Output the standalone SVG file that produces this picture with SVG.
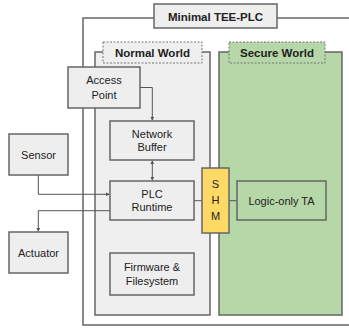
<svg xmlns="http://www.w3.org/2000/svg" width="349" height="328" viewBox="0 0 349 328">
  <defs>
    <style>
      .box { fill: #eeeeee; stroke: #666666; stroke-width: 1.5; }
      .region { stroke: #666666; stroke-width: 1.5; }
      .tag { stroke: #777777; stroke-width: 1; stroke-dasharray: 2 1.5; }
      .txt { font-family: "Liberation Sans", Arial, sans-serif; font-size: 11px; fill: #222222; text-anchor: middle; }
      .bold { font-weight: bold; font-size: 11.5px; }
      .wire { fill: none; stroke: #555555; stroke-width: 1; }
    </style>
    <marker id="tip" viewBox="0 0 6 6" refX="5" refY="3" markerWidth="4" markerHeight="4" orient="auto-start-reverse">
      <path d="M0,0 L6,3 L0,6 z" fill="#555555"/>
    </marker>
  </defs>

  <rect width="349" height="328" fill="#ffffff"/>

  <!-- enclosing system frame -->
  <g id="system">
    <rect x="83" y="18" width="275" height="307" fill="none" class="region"/>
    <rect x="154" y="4" width="123" height="24" class="box"/>
    <text x="215.5" y="20.5" class="txt bold">Minimal TEE-PLC</text>
  </g>

  <!-- normal world region -->
  <g id="normal-world">
    <rect x="95" y="52" width="115" height="263" fill="#efefef" class="region"/>
    <rect x="103" y="42" width="99" height="21" fill="#efefef" class="tag"/>
    <text x="152.5" y="57" class="txt bold">Normal World</text>
  </g>

  <!-- secure world region -->
  <g id="secure-world">
    <rect x="219" y="52" width="123" height="263" fill="#b6d7a8" class="region"/>
    <rect x="229" y="42" width="96" height="21" fill="#b6d7a8" class="tag"/>
    <text x="277" y="57" class="txt bold">Secure World</text>
  </g>

  <!-- connectors -->
  <g id="connectors">
    <path d="M140,87.5 H152.3 V120" class="wire" marker-end="url(#tip)"/>
    <path d="M152.3,161 V180" class="wire" marker-start="url(#tip)" marker-end="url(#tip)"/>
    <path d="M38.3,175 V194.3 H109" class="wire" marker-end="url(#tip)"/>
    <path d="M110,210.7 H38.3 V231" class="wire" marker-end="url(#tip)"/>
    <path d="M194,200.7 H202" class="wire"/>
    <path d="M229,200.7 H237" class="wire"/>
  </g>

  <g id="access-point">
    <rect x="68" y="67" width="72" height="41" class="box"/>
    <text x="104" y="84" class="txt">Access</text>
    <text x="104" y="99" class="txt">Point</text>
  </g>

  <g id="network-buffer">
    <rect x="110" y="121" width="84" height="39" class="box"/>
    <text x="152" y="138" class="txt">Network</text>
    <text x="152" y="151" class="txt">Buffer</text>
  </g>

  <g id="sensor">
    <rect x="9" y="134" width="59" height="41" class="box"/>
    <text x="38.5" y="158.5" class="txt">Sensor</text>
  </g>

  <g id="plc-runtime">
    <rect x="110" y="181" width="84" height="39" class="box"/>
    <text x="152" y="198" class="txt">PLC</text>
    <text x="152" y="211" class="txt">Runtime</text>
  </g>

  <g id="shm">
    <rect x="202" y="168" width="27" height="65" fill="#ffd966" stroke="#666666" stroke-width="1.5"/>
    <text x="215.5" y="188" class="txt">S</text>
    <text x="215.5" y="204" class="txt">H</text>
    <text x="215.5" y="220" class="txt">M</text>
  </g>

  <g id="logic-ta">
    <rect x="237" y="181" width="89" height="39" fill="#b6d7a8" stroke="#666666" stroke-width="1.5"/>
    <text x="281.5" y="204.5" class="txt">Logic-only TA</text>
  </g>

  <g id="actuator">
    <rect x="9" y="232" width="59" height="41" class="box"/>
    <text x="38.5" y="256.5" class="txt">Actuator</text>
  </g>

  <g id="firmware">
    <rect x="110" y="253" width="84" height="42" class="box"/>
    <text x="152" y="271" class="txt">Firmware &amp;</text>
    <text x="152" y="285" class="txt">Filesystem</text>
  </g>
</svg>
